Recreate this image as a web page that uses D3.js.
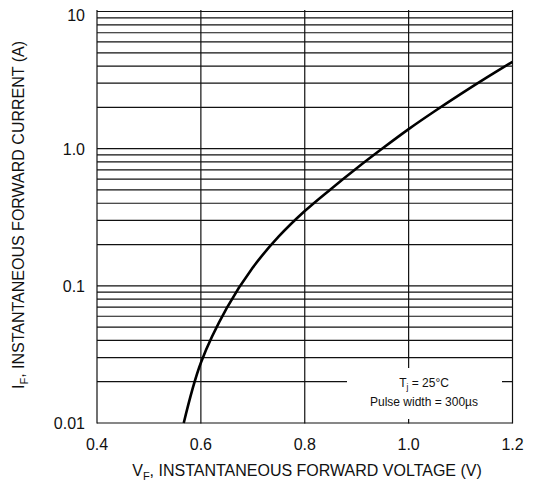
<!DOCTYPE html>
<html>
<head>
<meta charset="utf-8">
<script src="https://cdn.jsdelivr.net/npm/d3@7"></script>
<style>
  html, body { margin: 0; padding: 0; background: #fff; }
  svg { display: block; font-family: "Liberation Sans", Arial, sans-serif; }
</style>
</head>
<body>
<svg id="chart" width="536" height="485"></svg>
<script>
// ---- data ----
const forwardVoltage = [0.567, 0.60, 0.65, 0.70, 0.75, 0.80, 0.85, 0.90, 0.95, 1.00, 1.05, 1.10, 1.15, 1.20];
const forwardCurrent = [0.010, 0.0275, 0.0690, 0.136, 0.229, 0.351, 0.507, 0.720, 1.006, 1.388, 1.873, 2.497, 3.292, 4.30];
const xTickValues = [0.4, 0.6, 0.8, 1.0, 1.2];
const xTickLabels = ["0.4", "0.6", "0.8", "1.0", "1.2"];
const yTickValues = [0.01, 0.1, 1, 10];
const yTickLabels = ["0.01", "0.1", "1.0", "10"];
const yGridValues = [];
[0.01, 0.1, 1].forEach(d => { for (let k = 1; k <= 9; k++) yGridValues.push(+(d * k).toPrecision(3)); });
yGridValues.push(10);
const annotationLines = ["T|j| = 25°C", "Pulse width = 300µs"];

// ---- layout ----
const svg = d3.select("#chart");
const x = d3.scaleLinear().domain([0.4, 1.2]).range([97, 512.5]);
const y = d3.scaleLog().domain([0.01, 10]).range([423, 11.5]);

const grid = svg.append("g").attr("stroke", "#111").attr("stroke-width", 1.2);
grid.selectAll("line.h").data(yGridValues).join("line")
  .attr("class", "h")
  .attr("x1", x(0.4)).attr("x2", x(1.2))
  .attr("y1", d => y(d)).attr("y2", d => y(d));
grid.selectAll("line.v").data(xTickValues).join("line")
  .attr("class", "v")
  .attr("x1", d => x(d)).attr("x2", d => x(d))
  .attr("y1", y(10) - 1.5).attr("y2", y(0.01) + 0.6);

// annotation box (white, covers the grid)
svg.append("rect")
  .attr("x", 347).attr("y", 368).attr("width", 155).attr("height", 51)
  .attr("fill", "#fff");

// curve
const line = d3.line()
  .x(d => x(d[0]))
  .y(d => y(d[1]))
  .curve(d3.curveCatmullRom.alpha(0.5));
svg.append("path")
  .datum(forwardVoltage.map((v, i) => [v, forwardCurrent[i]]))
  .attr("d", line)
  .attr("fill", "none")
  .attr("stroke", "#000")
  .attr("stroke-width", 2.6)
  .attr("stroke-linecap", "butt");

// x tick labels
svg.append("g").selectAll("text").data(xTickValues).join("text")
  .attr("x", d => x(d)).attr("y", 450)
  .attr("text-anchor", "middle")
  .attr("font-size", 16)
  .attr("fill", "#111")
  .text((d, i) => xTickLabels[i]);

// y tick labels
svg.append("g").selectAll("text").data(yTickValues).join("text")
  .attr("x", 85).attr("y", d => y(d))
  .attr("dy", (d, i) => i === 3 ? "0.62em" : "0.4em")
  .attr("text-anchor", "end")
  .attr("font-size", 16)
  .attr("fill", "#111")
  .text((d, i) => yTickLabels[i]);

// x axis title
const xt = svg.append("text")
  .attr("x", 307).attr("y", 476)
  .attr("text-anchor", "middle")
  .attr("font-size", 16)
  .attr("fill", "#111");
xt.append("tspan").text("V");
xt.append("tspan").attr("font-size", 11).attr("dy", 4).text("F");
xt.append("tspan").attr("dy", -4).text(", INSTANTANEOUS FORWARD VOLTAGE (V)");

// y axis title
const yt = svg.append("text")
  .attr("transform", "translate(24,215) rotate(-90)")
  .attr("text-anchor", "middle")
  .attr("font-size", 16)
  .attr("fill", "#111");
yt.append("tspan").text("I");
yt.append("tspan").attr("font-size", 11).attr("dy", 4).text("F");
yt.append("tspan").attr("dy", -4).text(", INSTANTANEOUS FORWARD CURRENT (A)");

// annotation
const a1 = annotationLines[0].split("|");
const t1 = svg.append("text")
  .attr("x", 424).attr("y", 387)
  .attr("text-anchor", "middle")
  .attr("font-size", 12)
  .attr("fill", "#111");
t1.append("tspan").text(a1[0]);
t1.append("tspan").attr("font-size", 8.5).attr("dy", 3).text(a1[1]);
t1.append("tspan").attr("dy", -3).text(a1[2]);
svg.append("text")
  .attr("x", 424).attr("y", 406)
  .attr("text-anchor", "middle")
  .attr("font-size", 12)
  .attr("fill", "#111")
  .text(annotationLines[1]);
</script>
</body>
</html>
